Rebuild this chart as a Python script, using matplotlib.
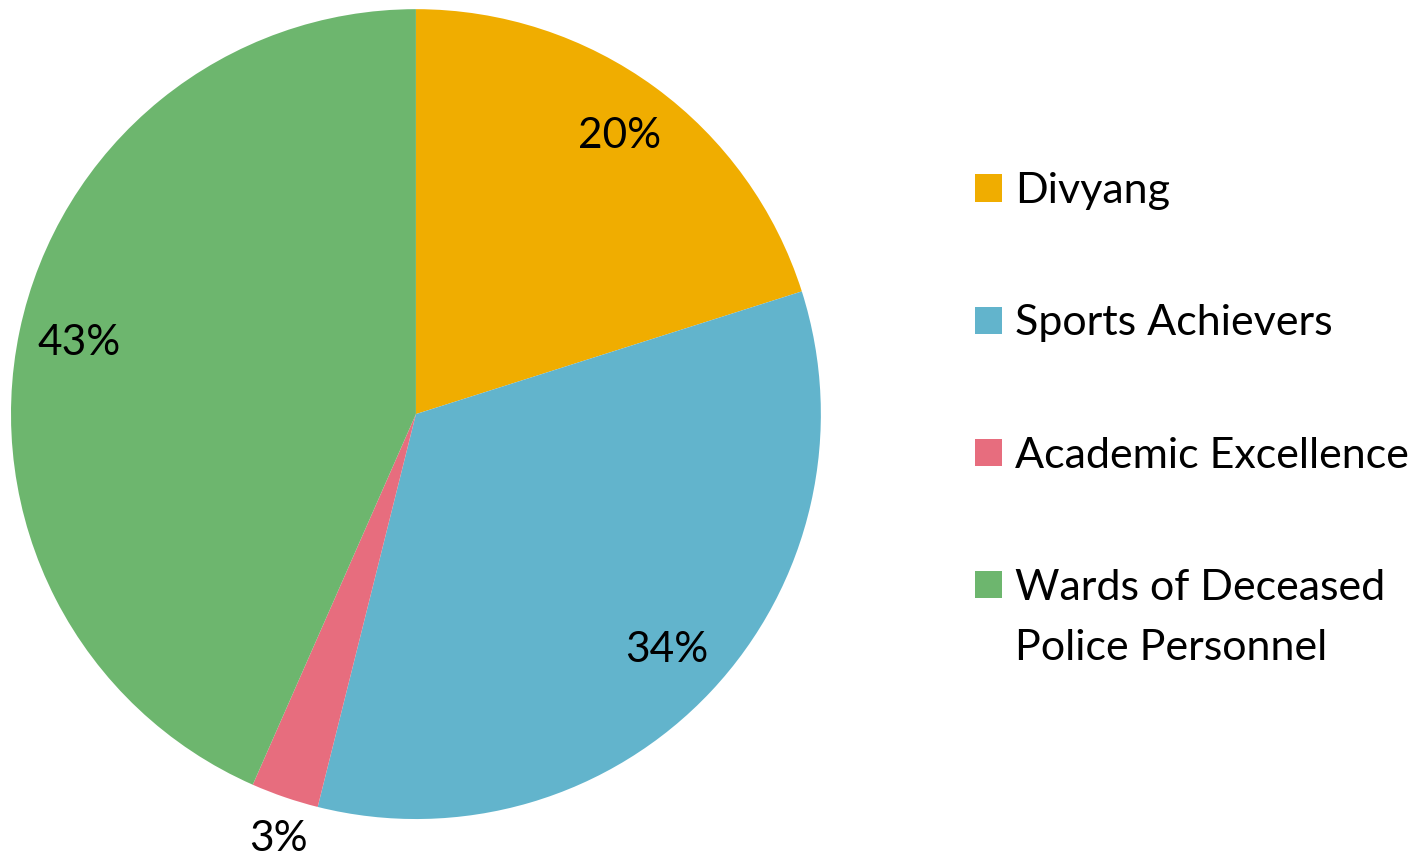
import matplotlib.pyplot as plt
from matplotlib.patches import Rectangle

labels = ["Divyang", "Sports Achievers", "Academic Excellence",
          "Wards of Deceased\nPolice Personnel"]
shares = [20.1, 33.8, 2.7, 43.4]
colors = ["#F0AD00", "#62B4CC", "#E76D7E", "#6DB66E"]

plt.rcParams['font.family'] = ['Lato', 'DejaVu Sans']

W, H = 1421, 857
fig = plt.figure(figsize=(W / 100, H / 100), dpi=100)
ax = fig.add_axes([0.0077, 0.0443, 0.570, 0.945])

wedges, texts, autotexts = ax.pie(
    shares, colors=colors, startangle=90, counterclock=False,
    autopct='%.0f%%', pctdistance=0.85, radius=1,
    textprops=dict(fontsize=30.5, color='black'))

# small slice label sits outside the pie
autotexts[2].set_position((-0.34, -1.05))

ax.set_xlim(-1, 1)
ax.set_ylim(-1, 1)
ax.set_aspect('equal')

# legend drawn by hand: square aligned with the first line of each label
top, step, line_gap, sq = 188, 132, 60, 27
for i, (lab, c) in enumerate(zip(labels, colors)):
    yc = top + i * step
    fig.patches.append(Rectangle((975 / W, 1 - (yc + sq / 2) / H), sq / W, sq / H,
                                 transform=fig.transFigure, facecolor=c,
                                 edgecolor='none'))
    for j, line in enumerate(lab.split("\n")):
        fig.text(1015 / W, 1 - (yc + j * line_gap) / H, line, fontsize=31,
                 va='center_baseline', ha='left')

fig.savefig("out.png", dpi=100)
